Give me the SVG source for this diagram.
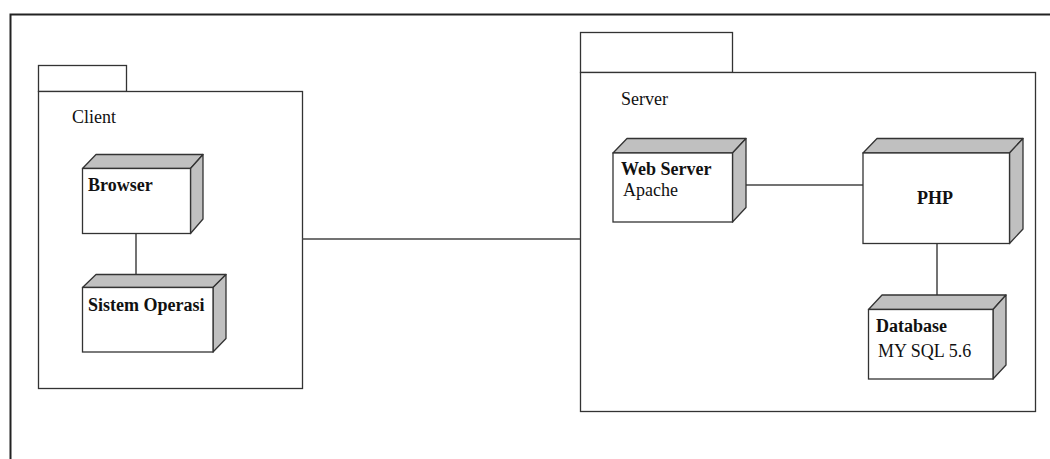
<svg xmlns="http://www.w3.org/2000/svg" width="1050" height="459" viewBox="0 0 1050 459">
<style>
.frame{fill:none;stroke:#222;stroke-width:2}
.pkg{fill:#fff;stroke:#333;stroke-width:1.3}
.face{fill:#fff;stroke:#333;stroke-width:1.3}
.shade{fill:#c0c0c0;stroke:#333;stroke-width:1.3;stroke-linejoin:round}
.conn{fill:none;stroke:#444;stroke-width:1.5}
text{font-family:"Liberation Serif","Times New Roman",serif;font-size:18px;fill:#111}
.b{font-weight:bold}
</style>
<rect width="1050" height="459" fill="#fff"/>
<path class="frame" d="M10.5,459 V14.5 H1050"/>
<g id="client">
<rect class="pkg" x="38.5" y="65.5" width="88" height="26"/>
<rect class="pkg" x="38.5" y="91.5" width="264" height="297"/>
<text x="72" y="123">Client</text>
</g>
<g id="server">
<rect class="pkg" x="580.5" y="32.5" width="152" height="40"/>
<rect class="pkg" x="580.5" y="72.5" width="455" height="339"/>
<text x="621" y="105">Server</text>
</g>
<g id="connectors">
<line class="conn" x1="302" y1="239" x2="580" y2="239"/>
<line class="conn" x1="136" y1="233" x2="136" y2="287"/>
<line class="conn" x1="745" y1="185" x2="863" y2="185"/>
<line class="conn" x1="937" y1="243" x2="937" y2="295"/>
</g>
<g id="browser">
<polygon class="shade" points="82.5,168.5 96,154.5 203,154.5 190.5,168.5"/>
<polygon class="shade" points="190.5,168.5 203,154.5 203,219 190.5,233.5"/>
<rect class="face" x="82.5" y="168.5" width="108" height="65"/>
<text class="b" x="88" y="191">Browser</text>
</g>
<g id="sistem-operasi">
<polygon class="shade" points="82.5,287.5 96,274.5 226,274.5 213,287.5"/>
<polygon class="shade" points="213,287.5 226,274.5 226,338.5 213,352"/>
<rect class="face" x="82.5" y="287.5" width="130.5" height="64.5"/>
<text class="b" x="88" y="311">Sistem Operasi</text>
</g>
<g id="web-server">
<polygon class="shade" points="613,153 627,138.5 746,138.5 732.5,153"/>
<polygon class="shade" points="732.5,153 746,138.5 746,207.5 732.5,222"/>
<rect class="face" x="613" y="153" width="119.5" height="69"/>
<text class="b" x="621" y="175">Web Server</text>
<text x="623" y="196">Apache</text>
</g>
<g id="php">
<polygon class="shade" points="863,153 877,138.5 1023,138.5 1009.5,153"/>
<polygon class="shade" points="1009.5,153 1023,138.5 1023,229 1009.5,243.5"/>
<rect class="face" x="863" y="153" width="146.5" height="90.5"/>
<text class="b" x="935" y="204" text-anchor="middle">PHP</text>
</g>
<g id="database">
<polygon class="shade" points="868.5,309.5 882,295 1006,295 993,309.5"/>
<polygon class="shade" points="993,309.5 1006,295 1006,365 993,379"/>
<rect class="face" x="868.5" y="309.5" width="124.5" height="69.5"/>
<text class="b" x="876" y="332">Database</text>
<text x="878" y="357">MY SQL 5.6</text>
</g>
</svg>
